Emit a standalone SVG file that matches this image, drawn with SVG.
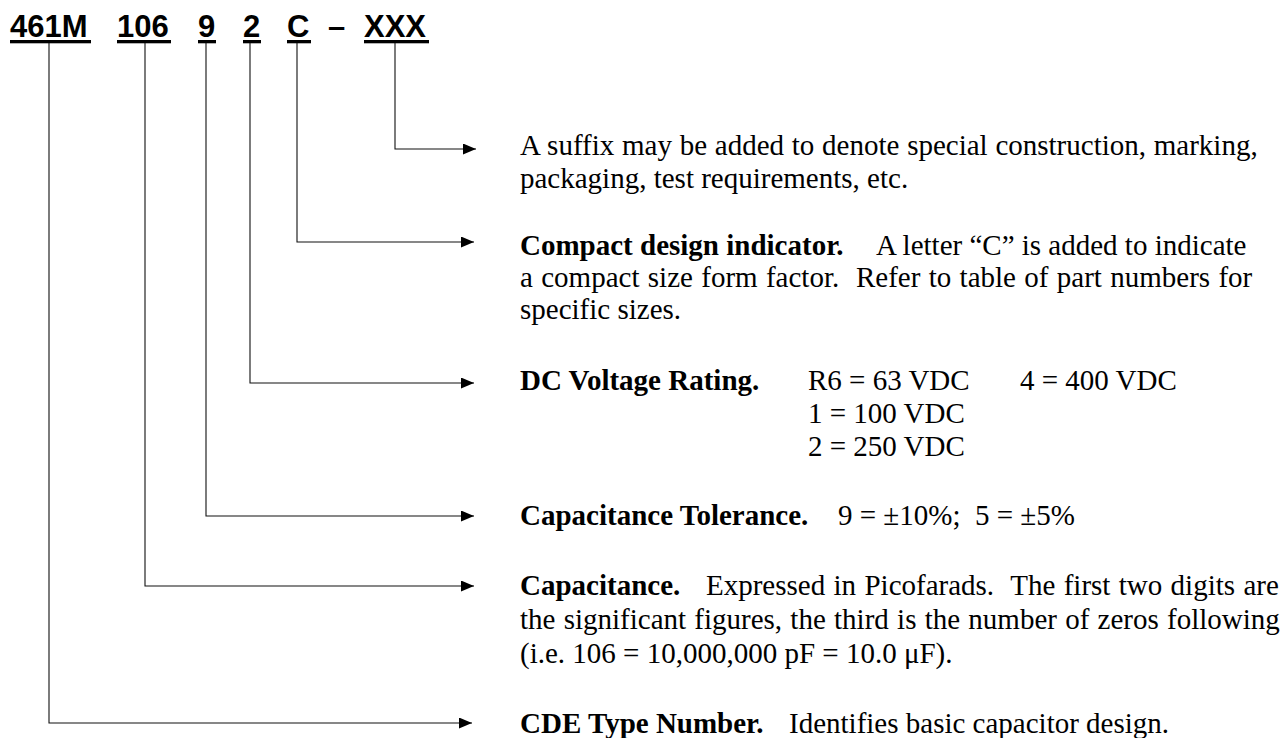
<svg xmlns="http://www.w3.org/2000/svg" width="1287" height="738" viewBox="0 0 1287 738">
<style>
.hdr{font-family:"Liberation Sans",Arial,sans-serif;font-weight:bold;font-size:31px;fill:#000}
.t{font-family:"Liberation Serif","Times New Roman",serif;font-size:29px;fill:#000;white-space:pre}
.b{font-weight:bold}
.conn{fill:none;stroke:#111;stroke-width:1.1}
</style>
<defs>
<marker id="ah" viewBox="0 0 13 11" refX="13" refY="5.5" markerWidth="13" markerHeight="11" markerUnits="userSpaceOnUse" orient="auto">
<path d="M0,0 L13,5.5 L0,11 Z" fill="#000"/>
</marker>
</defs>
<rect width="1287" height="738" fill="#fff"/>
<g id="partnumber">
<text class="hdr" y="37"><tspan x="10">461M</tspan><tspan x="117">106</tspan><tspan x="198">9</tspan><tspan x="243">2</tspan><tspan x="287">C</tspan><tspan x="328">–</tspan><tspan x="364">XXX</tspan></text>
<rect x="10" y="40" width="81" height="3.3" fill="#000"/>
<rect x="117" y="40" width="54" height="3.3" fill="#000"/>
<rect x="198" y="40" width="18" height="3.3" fill="#000"/>
<rect x="243" y="40" width="18" height="3.3" fill="#000"/>
<rect x="287" y="40" width="24" height="3.3" fill="#000"/>
<rect x="364" y="40" width="65" height="3.3" fill="#000"/>
</g>
<g id="connectors">
<path class="conn" d="M395,43 V149 H476" marker-end="url(#ah)"/>
<path class="conn" d="M297,43 V242 H474" marker-end="url(#ah)"/>
<path class="conn" d="M250,43 V383 H474" marker-end="url(#ah)"/>
<path class="conn" d="M206,43 V516 H474" marker-end="url(#ah)"/>
<path class="conn" d="M145,43 V586 H474" marker-end="url(#ah)"/>
<path class="conn" d="M49,43 V723 H472" marker-end="url(#ah)"/>
</g>
<g id="suffix">
<text class="t" x="520" y="155" word-spacing="0.5">A suffix may be added to denote special construction, marking,</text>
<text class="t" x="520" y="188">packaging, test requirements, etc.</text>
</g>
<g id="compact">
<text class="t" y="255"><tspan x="520" class="b">Compact design indicator.</tspan><tspan x="876">A letter “C” is added to indicate</tspan></text>
<text class="t" x="520" y="287" word-spacing="1.1">a compact size form factor.  Refer to table of part numbers for</text>
<text class="t" x="520" y="319">specific sizes.</text>
</g>
<g id="voltage">
<text class="t" y="390"><tspan x="520" class="b">DC Voltage Rating.</tspan><tspan x="808">R6 = 63 VDC</tspan><tspan x="1020">4 = 400 VDC</tspan></text>
<text class="t" x="808" y="423">1 = 100 VDC</text>
<text class="t" x="808" y="456">2 = 250 VDC</text>
</g>
<g id="tolerance">
<text class="t" y="525"><tspan x="520" class="b">Capacitance Tolerance.</tspan><tspan x="838">9 = ±10%;  5 = ±5%</tspan></text>
</g>
<g id="capacitance">
<text class="t" y="595"><tspan x="520" class="b">Capacitance.</tspan><tspan x="706" word-spacing="1.1">Expressed in Picofarads.  The first two digits are</tspan></text>
<text class="t" x="520" y="629" word-spacing="1">the significant figures, the third is the number of zeros following</text>
<text class="t" x="520" y="663">(i.e. 106 = 10,000,000 pF = 10.0 μF).</text>
</g>
<g id="type">
<text class="t" y="733"><tspan x="520" class="b">CDE Type Number.</tspan><tspan x="789">Identifies basic capacitor design.</tspan></text>
</g>
</svg>
